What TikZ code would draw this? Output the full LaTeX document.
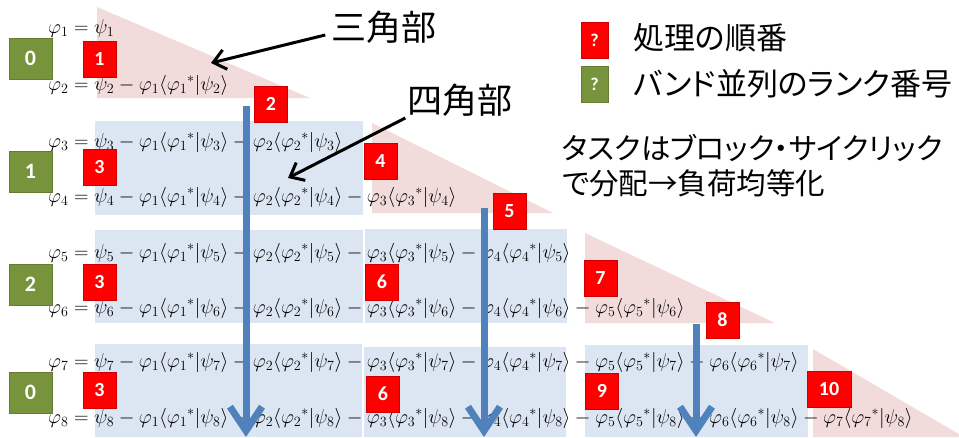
\documentclass[tikz,border=0pt]{standalone}
\usepackage{fix-cm}
\usepackage{amsmath}
\usepackage{fontspec}
\newfontfamily\jpfont[RawFeature=+palt]{Noto Sans CJK JP}
\newfontfamily\numfont{Carlito}
\usetikzlibrary{arrows.meta}
\definecolor{tripink}{HTML}{F2DCDB}
\definecolor{boxblue}{HTML}{DCE6F2}
\definecolor{arrblue}{HTML}{4F81BD}
\definecolor{rankgreen}{HTML}{77933C}
\definecolor{ordred}{HTML}{FF0000}
\newcommand\qterm[2]{-\varphi_{#1}\langle{\varphi_{#1}}^{*}|\psi_{#2}\rangle}
\tikzset{
  eqn/.style={anchor=base west, inner sep=0pt, text=black, font=\fontsize{20.1}{23}\selectfont},
  ordbox/.style={fill=ordred, draw=ordred!80!black, line width=0.6pt, minimum width=33pt, minimum height=36pt, inner sep=0pt, text=white, font=\numfont\bfseries\fontsize{20}{20}\selectfont},
  rankbox/.style={fill=rankgreen, draw=rankgreen!85!black, line width=0.6pt, minimum width=43pt, minimum height=41pt, inner sep=0pt, text=white, font=\numfont\bfseries\fontsize{22}{22}\selectfont},
  legbox/.style={minimum width=27pt, minimum height=36pt, inner sep=0pt, text=white, font=\numfont\bfseries\fontsize{18}{18}\selectfont},
  jplabel/.style={inner sep=0pt, font=\jpfont\fontsize{35}{40}\selectfont},
  jptext/.style={inner sep=0pt, anchor=west, font=\jpfont\fontsize{29.5}{34}\selectfont},
  callout/.style={line width=3pt, -{Straight Barb[length=12pt,width=20pt]}},
  flow/.style={arrblue, line width=7pt, -{Straight Barb[length=24pt,width=32pt]}}
}
\begin{document}
\begin{tikzpicture}[x=1pt,y=-1pt]
\useasboundingbox (0,0) rectangle (959,437);
\clip (0,0) rectangle (959,437);
% triangles
\fill[tripink] (97,7) -- (97,98) -- (310,98) -- cycle;
\fill[tripink] (372,123) -- (372,213) -- (553,213) -- cycle;
\fill[tripink] (585,233) -- (585,323) -- (775,323) -- cycle;
\fill[tripink] (813,349) -- (813,437) -- (964,437) -- cycle;
% square blocks
\fill[boxblue] (95,121) rectangle (363,215);
\fill[boxblue] (95,230) rectangle (363,323);
\fill[boxblue] (365,229) rectangle (567,323);
\fill[boxblue] (95,344) rectangle (362,437);
\fill[boxblue] (364,347) rectangle (566,437);
\fill[boxblue] (585,345) rectangle (808,437);
% equations
\node[eqn] (e1) at (48,33) {$\varphi_1=\psi_1$};
\node[eqn] (e2) at (48,90) {$\varphi_2=\psi_2\qterm12$};
\node[eqn] (e3) at (48,147) {$\varphi_3=\psi_3\qterm13\qterm23$};
\node[eqn] (e4) at (48,202) {$\varphi_4=\psi_4\qterm14\qterm24\qterm34$};
\node[eqn] (e5) at (48,258) {$\varphi_5=\psi_5\qterm15\qterm25\qterm35\qterm45$};
\node[eqn] (e6) at (48,313) {$\varphi_6=\psi_6\qterm16\qterm26\qterm36\qterm46\qterm56$};
\node[eqn] (e7) at (48,367) {$\varphi_7=\psi_7\qterm17\qterm27\qterm37\qterm47\qterm57\qterm67$};
\node[eqn] (e8) at (48,423) {$\varphi_8=\psi_8\qterm18\qterm28\qterm38\qterm48\qterm58\qterm68\qterm78$};
% flow arrows
\coordinate (a2s) at (246,106); \coordinate (a2e) at (246,437);
\coordinate (a5s) at (484,208); \coordinate (a5e) at (484,437);
\coordinate (a8s) at (696,324); \coordinate (a8e) at (696,437);
\draw[flow] (a2s) -- (a2e);
\draw[flow] (a5s) -- (a5e);
\draw[flow] (a8s) -- (a8e);
% order boxes
\node[ordbox] (o1) at (99.5,59) {1};
\node[ordbox] (o2) at (271,104) {2};
\node[ordbox] (o3a) at (99.5,167) {3};
\node[ordbox] (o4) at (380.5,161.5) {4};
\node[ordbox] (o5) at (509.5,211) {5};
\node[ordbox] (o3b) at (99.5,282) {3};
\node[ordbox] (o6a) at (382,282) {6};
\node[ordbox] (o7) at (600.5,278) {7};
\node[ordbox] (o8) at (722.5,320) {8};
\node[ordbox] (o3c) at (99.5,390) {3};
\node[ordbox] (o6b) at (383,394) {6};
\node[ordbox] (o9) at (602,391) {9};
\node[ordbox, minimum width=44pt] (o10) at (829,389) {10};
% rank boxes
\node[rankbox] (r0a) at (30.5,58.5) {0};
\node[rankbox] (r1) at (30.5,171.5) {1};
\node[rankbox] (r2) at (30.5,284.5) {2};
\node[rankbox] (r0b) at (30.5,392.5) {0};
% labels with callouts
\node[jplabel] (tri) at (384,27) {三角部};
\node[jplabel] (sq) at (460,100) {四角部};
\coordinate (tritip) at (211,63);
\coordinate (sqtip) at (288,178);
\draw[callout] ([xshift=-6pt,yshift=-8pt]tri.west) -- (tritip);
\draw[callout] ([xshift=-2pt,yshift=-18pt]sq.west) -- (sqtip);
% legend
\node[legbox, fill=ordred, draw=ordred!80!black] (lr) at (594.5,40) {?};
\node[legbox, fill=rankgreen, draw=rankgreen!85!black] (lg) at (594.5,84.5) {?};
\node[jptext, font=\jpfont\fontsize{31}{34}\selectfont] (lt1) at (633,38) {処理の順番};
\node[jptext, font=\jpfont\fontsize{31}{34}\selectfont] (lt2) at (633,84) {バンド並列のランク番号};
\node[jptext] (n1) at (562,148) {タスクはブロック・サイクリック};
\node[jptext] (n2) at (562,183) {で分配→負荷均等化};
\end{tikzpicture}
\end{document}
